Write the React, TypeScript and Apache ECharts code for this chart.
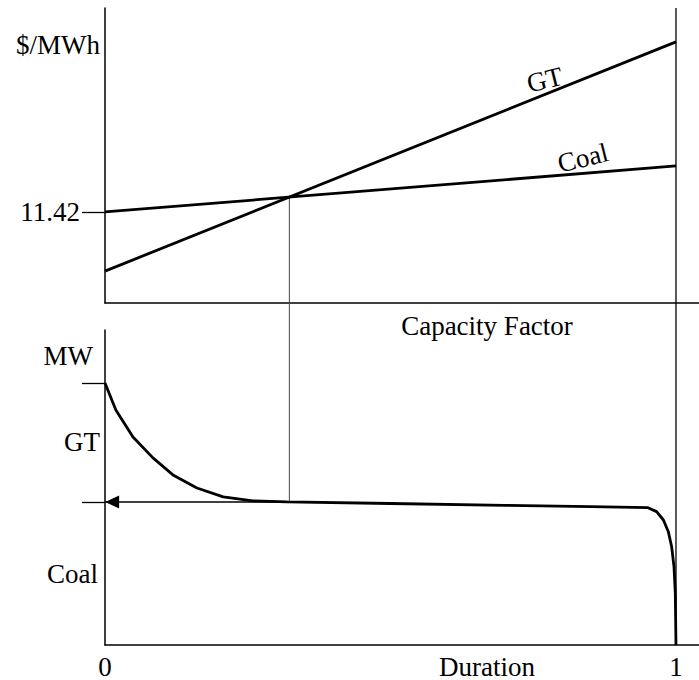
import React, { useEffect, useRef } from "react";
import * as echarts from "echarts";

// ---- data ----
const capacityFactor = [0, 1];
const gtCost = [4.0, 32.75];
const coalCost = [11.42, 17.19];
const priceTicks = [11.42];

const durationX = [0, 0.019, 0.049, 0.084, 0.119, 0.161, 0.207, 0.259, 0.319, 0.5, 0.7, 0.85, 0.951, 0.966, 0.978, 0.9866, 0.9924, 0.9965, 0.9988, 1.0];
const loadMW = [100, 89.7, 79.4, 71.4, 64.9, 59.9, 56.5, 55.0, 54.6, 54.0, 53.3, 52.8, 52.4, 50.9, 47.7, 43.2, 37.5, 29.9, 19.7, 0];
const peakLoad = 100;
const coalLoad = 54.6;

const FONT = "Liberation Serif";
const FS = 27;

export default function App() {
  const ref = useRef<HTMLDivElement>(null);
  useEffect(() => {
    if (!ref.current) return;
    const chart = echarts.init(ref.current, undefined, { renderer: "svg" });

    // crossover point of the two screening lines
    const gtSlope = (gtCost[1] - gtCost[0]) / (capacityFactor[1] - capacityFactor[0]);
    const coalSlope = (coalCost[1] - coalCost[0]) / (capacityFactor[1] - capacityFactor[0]);
    const xc = (coalCost[0] - gtCost[0]) / (gtSlope - coalSlope);
    const yc = coalCost[0] + coalSlope * xc;

    const textStyle = { fontFamily: FONT, fontSize: FS, color: "#000" };
    const axisLine = { show: true, lineStyle: { color: "#000", width: 1.5 } };

    const option: any = {
      animation: false,
      backgroundColor: "#fff",
      grid: [
        { left: 105, right: 0, top: 8, height: 295 },
        { left: 105, right: 0, top: 330, bottom: 35 },
      ],
      xAxis: [
        {
          type: "value", gridIndex: 0, min: 0, max: 1.0403,
          axisLine, axisTick: { show: false }, splitLine: { show: false },
          axisLabel: {
            customValues: [0.669], margin: 9, ...textStyle,
            formatter: () => "Capacity Factor",
          },
        },
        {
          type: "value", gridIndex: 1, min: 0, max: 1.0403,
          axisLine, axisTick: { show: false }, splitLine: { show: false },
          axisLabel: {
            customValues: [0, 0.669, 1], margin: 8, ...textStyle,
            formatter: (v: number) => (v === 0 ? "0" : v === 1 ? "1" : "Duration"),
          },
        },
      ],
      yAxis: [
        {
          type: "value", gridIndex: 0, min: 0, max: 37,
          axisLine, splitLine: { show: false },
          axisTick: { show: true, customValues: priceTicks, length: 23, lineStyle: { color: "#000", width: 1.3 } },
          axisLabel: {
            customValues: [priceTicks[0], 32.4], margin: 5, ...textStyle,
            formatter: (v: number) => (v === priceTicks[0] ? "{a|" + v.toFixed(2) + "}" : "{b|$/MWh}"),
            rich: {
              a: { ...textStyle, padding: [0, 20, 0, 0] },
              b: { ...textStyle },
            },
          },
        },
        {
          type: "value", gridIndex: 1, min: 0, max: 120.2,
          axisLine, splitLine: { show: false },
          axisTick: { show: true, customValues: [peakLoad, coalLoad], length: 23, lineStyle: { color: "#000", width: 1.3 } },
          axisLabel: {
            customValues: [110.3, 77.5, 27.1], margin: 5, ...textStyle,
            formatter: (v: number) => (v > 100 ? "{m|MW}" : v > 60 ? "{g|GT}" : "{c|Coal}"),
            rich: {
              m: { ...textStyle, padding: [0, 7, 0, 0] },
              g: { ...textStyle },
              c: { ...textStyle, padding: [0, 2, 0, 0] },
            },
          },
        },
      ],
      series: [
        {
          type: "line", xAxisIndex: 0, yAxisIndex: 0, symbol: "none",
          data: capacityFactor.map((x, i) => [x, gtCost[i]]),
          lineStyle: { color: "#000", width: 2.8 },
          markPoint: {
            symbol: "circle", symbolSize: 0,
            label: { show: true, position: "inside", formatter: "GT", rotate: 14, ...textStyle },
            data: [{ coord: [0.77, 28.0] }],
          },
        },
        {
          type: "line", xAxisIndex: 0, yAxisIndex: 0, symbol: "none",
          data: capacityFactor.map((x, i) => [x, coalCost[i]]),
          lineStyle: { color: "#000", width: 2.8 },
          markPoint: {
            symbol: "circle", symbolSize: 0,
            label: { show: true, position: "inside", formatter: "Coal", rotate: 14, ...textStyle },
            data: [{ coord: [0.837, 18.2] }],
          },
        },
        {
          type: "line", xAxisIndex: 1, yAxisIndex: 1, symbol: "none",
          data: durationX.map((x, i) => [x, loadMW[i]]),
          lineStyle: { color: "#000", width: 2.8 },
          markLine: {
            silent: true,
            symbol: ["none", "triangle"],
            symbolSize: [13, 14],
            label: { show: false },
            lineStyle: { color: "#000", width: 1.5, type: "solid" },
            data: [[{ coord: [xc, coalLoad] }, { coord: [0.0125, coalLoad] }]],
          },
        },
      ],
    };
    chart.setOption(option);

    const pTop = chart.convertToPixel({ gridIndex: 0 } as any, [xc, yc]) as number[];
    const pBot = chart.convertToPixel({ gridIndex: 1 } as any, [xc, coalLoad]) as number[];
    const rTop = chart.convertToPixel({ gridIndex: 0 } as any, [1, 37]) as number[];
    const rBot = chart.convertToPixel({ gridIndex: 1 } as any, [1, 0]) as number[];
    const a0 = chart.convertToPixel({ gridIndex: 1 } as any, [0, coalLoad]) as number[];
    const a1 = chart.convertToPixel({ gridIndex: 1 } as any, [0.0125, coalLoad]) as number[];
    chart.setOption({
      graphic: [
        {
          type: "line", z: 1,
          shape: { x1: pTop[0], y1: pTop[1], x2: pBot[0], y2: pBot[1] },
          style: { stroke: "#444", lineWidth: 1 },
        },
        {
          type: "line", z: 1,
          shape: { x1: rTop[0], y1: rTop[1], x2: rBot[0], y2: rBot[1] },
          style: { stroke: "#000", lineWidth: 1.3 },
        },
        {
          type: "line", z: 1,
          shape: { x1: a0[0], y1: a0[1], x2: a1[0], y2: a1[1] },
          style: { stroke: "#000", lineWidth: 1.5 },
        },
      ],
    });

    return () => chart.dispose();
  }, []);
  return <div ref={ref} style={{ position: "fixed", left: 0, top: 0, width: 699, height: 680 }} />;
}
